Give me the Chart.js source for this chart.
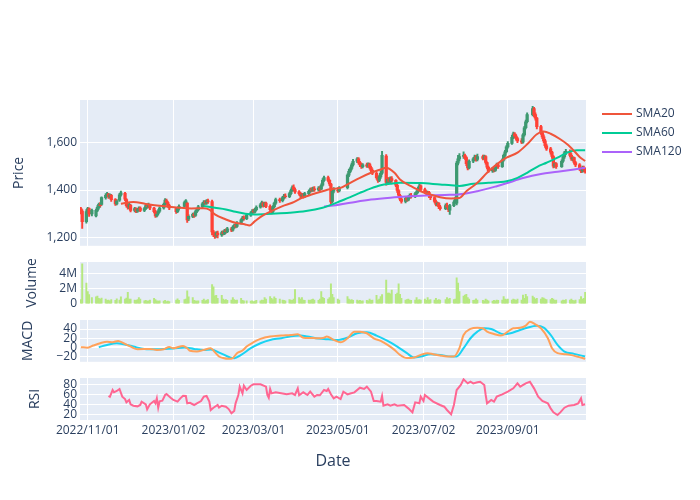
<!DOCTYPE html>
<html>
<head>
<meta charset="utf-8">
<script src="https://cdn.jsdelivr.net/npm/chart.js@4.4.1/dist/chart.umd.min.js"></script>
<style>
  body { margin: 0; background: #fff; }
  #wrap { position: relative; width: 700px; height: 500px; }
  #wrap canvas { position: absolute; left: 0; }
</style>
</head>
<body>
<div id="wrap">
  <canvas id="price" width="700" height="256" style="top:0"></canvas>
  <canvas id="volume" width="700" height="64" style="top:250px"></canvas>
  <canvas id="macd" width="700" height="64" style="top:308px"></canvas>
  <canvas id="rsi" width="700" height="134" style="top:366px"></canvas>
</div>
<script>
// trading calendar
const firstDate = '2022-10-27';
const lastDate = '2023-10-27';
const holidays = ['2022-11-03', '2022-11-23', '2023-01-02', '2023-01-03', '2023-01-09', '2023-02-23',
  '2023-03-21', '2023-05-03', '2023-05-04', '2023-05-05', '2023-07-17', '2023-08-11', '2023-09-18', '2023-10-09'];

const tickDates = ['2022-11-01', '2023-01-02', '2023-03-01', '2023-05-01', '2023-07-02', '2023-09-01'];

// daily prices, one line per week
const openP = [
  1322, 1312,
  1268, 1310, 1322, 1300,
  1292, 1315, 1326, 1338, 1340,
  1368, 1378, 1382, 1372, 1378,
  1360, 1342, 1358, 1380,
  1386, 1360, 1335, 1328, 1336,
  1315, 1322, 1312, 1318, 1325,
  1315, 1322, 1334, 1330, 1336,
  1325, 1310, 1292, 1302, 1312,
  1325, 1340, 1356, 1348, 1335,
  1322, 1310, 1322,
  1332, 1348, 1345, 1278,
  1290, 1298, 1294, 1310, 1318,
  1330, 1342, 1350, 1346, 1355,
  1352, 1225, 1215, 1210, 1220,
  1212, 1222, 1218, 1230, 1226,
  1238, 1232, 1245, 1252, 1248,
  1262, 1275, 1284, 1280,
  1295, 1305, 1312, 1308, 1318,
  1328, 1338, 1346, 1335, 1345,
  1332, 1318, 1310, 1330, 1345,
  1360, 1355, 1368, 1375,
  1372, 1385, 1398, 1412, 1402,
  1392, 1385, 1375, 1380, 1372,
  1385, 1395, 1402, 1398, 1405,
  1400, 1408, 1404, 1420, 1440,
  1452, 1440, 1425, 1352, 1395,
  1400, 1396,
  1410, 1462, 1478, 1490, 1505,
  1520, 1530, 1515, 1505, 1498,
  1505, 1500, 1508, 1495, 1482,
  1470, 1452, 1440, 1455, 1470,
  1542, 1430, 1445, 1436, 1448,
  1440, 1420, 1398, 1378, 1362,
  1352, 1365, 1358, 1370, 1378,
  1372, 1385, 1392, 1405, 1418,
  1402, 1392, 1385, 1390, 1375,
  1368, 1352, 1340, 1345, 1330,
  1322, 1335, 1328, 1316,
  1335, 1350, 1345, 1512, 1530,
  1540, 1545, 1535, 1510, 1492,
  1520, 1530, 1538, 1528,
  1540, 1532, 1540, 1515, 1495,
  1480, 1488, 1482, 1496, 1505,
  1498, 1525, 1545, 1560, 1580,
  1595, 1620, 1635, 1625, 1615,
  1605, 1600, 1630, 1660, 1685,
  1715, 1740, 1715, 1700,
  1665, 1640, 1622, 1605, 1585,
  1572, 1558, 1540, 1500, 1510,
  1498, 1520, 1538, 1555,
  1562, 1545, 1530, 1535, 1515,
  1505, 1490, 1480, 1495, 1485
];
const highP = [
  1328, 1318,
  1318, 1328, 1326, 1320,
  1320, 1335, 1345, 1348, 1372,
  1385, 1390, 1386, 1384, 1382,
  1364, 1360, 1386, 1396,
  1390, 1364, 1342, 1344, 1340,
  1328, 1326, 1324, 1330, 1330,
  1328, 1340, 1342, 1345, 1340,
  1328, 1315, 1306, 1318, 1330,
  1345, 1364, 1362, 1352, 1340,
  1328, 1328, 1338,
  1354, 1360, 1348, 1296,
  1304, 1305, 1316, 1324, 1336,
  1348, 1356, 1356, 1360, 1362,
  1358, 1232, 1222, 1226, 1228,
  1228, 1230, 1236, 1238, 1244,
  1244, 1250, 1258, 1260, 1268,
  1280, 1290, 1292, 1300,
  1310, 1318, 1320, 1324, 1334,
  1344, 1354, 1350, 1350, 1350,
  1338, 1324, 1335, 1350, 1366,
  1366, 1374, 1382, 1384,
  1390, 1404, 1418, 1422, 1408,
  1398, 1390, 1386, 1386, 1390,
  1400, 1408, 1410, 1412, 1414,
  1414, 1414, 1426, 1448, 1458,
  1458, 1444, 1428, 1400, 1410,
  1410, 1414,
  1468, 1486, 1496, 1512, 1528,
  1536, 1535, 1520, 1512, 1510,
  1512, 1514, 1512, 1500, 1488,
  1476, 1458, 1462, 1478, 1562,
  1548, 1452, 1452, 1455, 1456,
  1444, 1424, 1402, 1382, 1368,
  1370, 1372, 1376, 1384, 1386,
  1390, 1398, 1412, 1430, 1422,
  1408, 1398, 1396, 1394, 1380,
  1372, 1358, 1350, 1348, 1336,
  1342, 1345, 1334, 1340,
  1356, 1370, 1520, 1545, 1552,
  1560, 1550, 1540, 1516, 1526,
  1536, 1546, 1545, 1550,
  1546, 1546, 1544, 1518, 1500,
  1494, 1495, 1502, 1512, 1510,
  1530, 1550, 1566, 1586, 1602,
  1628, 1642, 1640, 1632, 1620,
  1615, 1636, 1666, 1692, 1722,
  1750, 1745, 1722, 1704,
  1670, 1646, 1630, 1612, 1592,
  1578, 1562, 1544, 1516, 1515,
  1526, 1544, 1562, 1570,
  1568, 1552, 1540, 1538, 1520,
  1510, 1495, 1500, 1500, 1492
];
const lowP = [
  1300, 1240,
  1262, 1302, 1290, 1292,
  1288, 1310, 1320, 1328, 1336,
  1362, 1372, 1365, 1366, 1352,
  1336, 1338, 1352, 1374,
  1356, 1328, 1320, 1322, 1308,
  1308, 1305, 1306, 1312, 1310,
  1310, 1318, 1324, 1325, 1318,
  1304, 1286, 1288, 1296, 1306,
  1320, 1336, 1340, 1328, 1318,
  1302, 1305, 1316,
  1328, 1342, 1265, 1272,
  1284, 1286, 1290, 1305, 1314,
  1326, 1338, 1340, 1340, 1344,
  1212, 1205, 1198, 1202, 1200,
  1206, 1212, 1214, 1220, 1222,
  1226, 1228, 1240, 1242, 1244,
  1258, 1270, 1274, 1276,
  1290, 1300, 1302, 1304, 1314,
  1324, 1332, 1328, 1330, 1326,
  1310, 1300, 1305, 1326, 1340,
  1348, 1350, 1362, 1366,
  1368, 1380, 1394, 1396, 1386,
  1378, 1368, 1368, 1366, 1368,
  1380, 1390, 1392, 1394, 1394,
  1396, 1396, 1400, 1416, 1436,
  1434, 1418, 1340, 1346, 1388,
  1390, 1392,
  1405, 1456, 1472, 1484, 1500,
  1514, 1508, 1498, 1490, 1492,
  1494, 1494, 1488, 1476, 1464,
  1445, 1432, 1435, 1448, 1465,
  1420, 1424, 1428, 1430, 1432,
  1414, 1390, 1370, 1355, 1345,
  1346, 1352, 1354, 1365, 1366,
  1368, 1380, 1388, 1400, 1396,
  1386, 1378, 1380, 1368, 1360,
  1346, 1334, 1334, 1322, 1316,
  1318, 1322, 1310, 1298,
  1330, 1344, 1338, 1505, 1522,
  1532, 1528, 1502, 1484, 1488,
  1514, 1524, 1520, 1522,
  1526, 1528, 1508, 1488, 1474,
  1474, 1476, 1478, 1490, 1490,
  1494, 1520, 1540, 1555, 1575,
  1590, 1614, 1618, 1608, 1598,
  1594, 1596, 1625, 1655, 1680,
  1710, 1705, 1692, 1655,
  1632, 1614, 1598, 1578, 1565,
  1550, 1532, 1492, 1494, 1490,
  1494, 1515, 1532, 1548,
  1538, 1524, 1522, 1508, 1498,
  1482, 1472, 1474, 1476, 1470
];
const closeP = [
  1308, 1268,
  1310, 1322, 1300, 1315,
  1315, 1328, 1340, 1335, 1368,
  1378, 1382, 1372, 1380, 1360,
  1342, 1355, 1380, 1388,
  1362, 1335, 1328, 1338, 1315,
  1322, 1312, 1318, 1325, 1315,
  1322, 1335, 1330, 1338, 1325,
  1310, 1292, 1300, 1312, 1325,
  1340, 1358, 1348, 1335, 1325,
  1310, 1322, 1332,
  1348, 1355, 1275, 1290,
  1298, 1292, 1310, 1318, 1330,
  1342, 1350, 1346, 1355, 1350,
  1225, 1215, 1208, 1220, 1212,
  1222, 1218, 1230, 1226, 1238,
  1232, 1245, 1252, 1248, 1262,
  1275, 1284, 1280, 1295,
  1305, 1312, 1308, 1318, 1328,
  1338, 1348, 1335, 1345, 1332,
  1318, 1308, 1330, 1345, 1360,
  1355, 1368, 1375, 1372,
  1385, 1398, 1410, 1402, 1392,
  1385, 1375, 1380, 1372, 1385,
  1395, 1402, 1398, 1405, 1400,
  1408, 1402, 1420, 1440, 1452,
  1440, 1425, 1350, 1395, 1402,
  1396, 1408,
  1462, 1478, 1490, 1505, 1520,
  1530, 1515, 1505, 1498, 1505,
  1500, 1508, 1495, 1482, 1470,
  1452, 1440, 1455, 1470, 1545,
  1432, 1445, 1436, 1448, 1440,
  1420, 1398, 1378, 1362, 1352,
  1365, 1358, 1370, 1378, 1372,
  1385, 1392, 1405, 1418, 1402,
  1392, 1385, 1390, 1375, 1368,
  1352, 1340, 1345, 1330, 1322,
  1335, 1328, 1318, 1335,
  1350, 1365, 1512, 1530, 1540,
  1545, 1535, 1510, 1492, 1520,
  1530, 1538, 1528, 1540,
  1532, 1540, 1515, 1495, 1480,
  1488, 1482, 1496, 1505, 1498,
  1525, 1545, 1560, 1580, 1595,
  1620, 1635, 1625, 1615, 1605,
  1600, 1630, 1660, 1685, 1715,
  1740, 1715, 1700, 1665,
  1640, 1622, 1605, 1585, 1572,
  1558, 1540, 1500, 1510, 1498,
  1520, 1538, 1555, 1562,
  1545, 1530, 1535, 1515, 1505,
  1490, 1480, 1495, 1485, 1478
];
const volume = [
  550000, 5200000,
  2700000, 1600000, 1200000, 800000,
  900000, 1000000, 700000, 600000, 750000,
  600000, 450000, 500000, 400000, 550000,
  450000, 650000, 500000, 900000,
  600000, 750000, 1500000, 600000, 600000,
  500000, 450000, 550000, 800000, 600000,
  400000, 450000, 350000, 400000, 500000,
  700000, 550000, 400000, 350000, 400000,
  350000, 450000, 300000, 350000, 300000,
  500000, 650000, 450000,
  550000, 600000, 1700000, 900000,
  800000, 450000, 400000, 350000, 400000,
  450000, 600000, 400000, 500000, 550000,
  2500000, 2200000, 1050000, 1100000, 700000,
  1100000, 600000, 500000, 550000, 450000,
  500000, 800000, 550000, 450000, 500000,
  700000, 450000, 400000, 400000,
  350000, 400000, 300000, 350000, 450000,
  400000, 500000, 450000, 800000, 600000,
  950000, 700000, 550000, 900000, 700000,
  600000, 500000, 450000, 400000,
  550000, 500000, 450000, 600000, 1850000,
  800000, 600000, 800000, 500000, 450000,
  500000, 450000, 550000, 600000, 500000,
  450000, 600000, 1600000, 850000, 700000,
  600000, 800000, 2600000, 1250000, 800000,
  600000, 500000,
  950000, 600000, 500000, 550000, 450000,
  500000, 400000, 450000, 350000, 400000,
  450000, 400000, 600000, 450000, 500000,
  1100000, 500000, 600000, 950000, 1200000,
  3100000, 1400000, 1400000, 1300000, 1800000,
  1250000, 1400000, 2600000, 1250000, 700000,
  500000, 550000, 600000, 500000, 450000,
  500000, 800000, 500000, 550000, 500000,
  600000, 450000, 800000, 500000, 550000,
  500000, 700000, 450000, 550000, 500000,
  550000, 800000, 600000, 700000,
  550000, 600000, 3400000, 2700000, 1600000,
  1000000, 1150000, 1250000, 800000, 600000,
  450000, 500000, 650000, 500000,
  450000, 400000, 600000, 500000, 400000,
  350000, 450000, 400000, 500000, 450000,
  500000, 950000, 600000, 550000, 600000,
  500000, 600000, 550000, 450000, 600000,
  500000, 1150000, 700000, 1250000, 950000,
  1000000, 800000, 600000, 700000,
  600000, 800000, 750000, 600000, 550000,
  550000, 700000, 600000, 450000, 500000,
  400000, 500000, 450000, 550000,
  500000, 600000, 450000, 400000, 500000,
  550000, 950000, 600000, 700000, 1500000
];

// indicator readings, x = days after 2022-11-01
const sma20Days = [24, 33, 42, 54, 66, 75, 84, 88, 92, 100, 107, 114, 117, 121, 126, 133, 141, 148, 155, 162,
  170, 175, 183, 190, 197, 205, 212, 216, 222, 226, 234, 241, 248, 255, 263, 269, 274, 282, 289, 296,
  303, 311, 318, 325, 330, 335, 342, 347, 352, 356, 360];
const sma20 = [1343, 1350, 1342, 1333, 1326, 1323, 1324, 1318, 1298, 1277, 1263, 1256, 1252, 1270, 1291, 1312, 1333, 1347, 1367, 1381,
  1395, 1403, 1409, 1430, 1451, 1472, 1486, 1493, 1472, 1444, 1416, 1395, 1381, 1370, 1365, 1367, 1395, 1430, 1472, 1507,
  1535, 1556, 1591, 1633, 1644, 1635, 1612, 1591, 1563, 1538, 1521];

const sma60Days = [84, 92, 100, 107, 114, 121, 133, 146, 158, 170, 176, 183, 190, 197, 205, 212, 219, 226, 241, 255,
  263, 269, 279, 290, 303, 311, 318, 325, 332, 340, 347, 354, 360];
const sma60 = [1333, 1326, 1319, 1309, 1301, 1298, 1301, 1305, 1312, 1326, 1338, 1354, 1370, 1388, 1407, 1420, 1426, 1430, 1429, 1423,
  1420, 1417, 1426, 1430, 1437, 1451, 1472, 1496, 1514, 1535, 1556, 1566, 1566];

const sma120Days = [171, 176, 190, 205, 219, 234, 248, 262, 268, 282, 296, 303, 315, 328, 340, 352, 360];
const sma120 = [1331, 1334, 1347, 1360, 1368, 1374, 1378, 1380, 1381, 1395, 1416, 1428, 1450, 1467, 1476, 1486, 1493];

const macdDays = [-5, 0, 4, 9, 14, 18, 22, 26, 31, 36, 45, 50, 55, 59, 62, 69, 72, 74, 79, 84,
  89, 92, 95, 98, 102, 105, 108, 112, 115, 120, 125, 132, 140, 147, 152, 156, 161, 166, 171, 173,
  178, 183, 188, 193, 197, 202, 207, 212, 217, 222, 226, 231, 236, 241, 246, 250, 255, 260, 265, 269,
  272, 277, 282, 286, 289, 294, 299, 304, 308, 313, 317, 320, 324, 328, 333, 336, 340, 345, 349, 354, 360];
const macd = [0, -1, 3.6, 8.7, 12, 11, 13.8, 8.7, 1.4, -4.5, -3.8, -6, -4.5, 0.6, -2.3, 2.8, -2.3, -8, -9.6, -6,
  -2.3, -11, -20.6, -24, -25.8, -24, -13.3, -7.4, 1.4, 10.9, 18.2, 23.4, 25.6, 27, 28.5, 21, 20.5, 19.7, 21, 23.4,
  16, 10.9, 19.7, 34.3, 34.3, 30.7, 19.7, 13.8, 5, -6, -17, -24, -22.8, -17, -13.3, -15.5, -18.4, -20.6, -20.6, -2.3,
  27, 40.2, 43, 41.7, 34.3, 29.2, 25.6, 34.3, 41.7, 43, 47.5, 56.3, 50.5, 41.7, 19.7, -2.3, -13.3, -15.5, -17, -20.6, -25.8];

const signalDays = [8, 14, 21, 26, 33, 41, 50, 62, 70, 77, 84, 89, 96, 103, 106, 111, 118, 125, 132, 140,
  147, 154, 159, 165, 171, 181, 188, 195, 202, 209, 217, 224, 231, 236, 241, 248, 255, 263, 267, 272,
  277, 282, 287, 292, 296, 301, 306, 311, 318, 325, 330, 335, 340, 345, 352, 360];
const signal = [0, 5, 8.7, 6.5, 1.4, -3.8, -4.5, -3, -0.8, -3.8, -6, -5.2, -13, -22.8, -24.3, -17, -2.3, 8.7, 16, 19.7,
  24, 25.5, 23.4, 19.7, 18.2, 16, 21, 30.7, 32.9, 25.6, 13.8, 1.4, -13.3, -22.8, -20.6, -15.5, -17, -20.6, -20.6, -2.3,
  19.7, 34.3, 41.7, 40.2, 34.3, 28.5, 30.7, 35.8, 43, 47.5, 43, 27, 5, -9.6, -14.8, -20.6];

const rsiDays = [15, 16, 18, 19, 21, 23, 25, 27, 28, 30, 31, 33, 36, 38, 39, 42, 43, 45, 48, 49,
  50, 51, 52, 54, 56, 57, 60, 62, 65, 67, 69, 71, 72, 74, 77, 79, 82, 84, 86, 88,
  89, 91, 94, 95, 97, 100, 102, 104, 106, 107, 109, 110, 112, 113, 115, 118, 120, 125, 129, 130,
  131, 132, 133, 136, 140, 144, 148, 150, 152, 153, 156, 159, 161, 164, 166, 168, 171, 173, 174, 176,
  178, 180, 183, 185, 188, 190, 193, 197, 200, 202, 205, 207, 209, 212, 213, 214, 217, 219, 222, 224,
  229, 232, 235, 237, 240, 241, 243, 244, 247, 250, 255, 258, 260, 263, 265, 267, 270, 272, 275, 277,
  279, 282, 284, 287, 288, 289, 292, 294, 296, 300, 304, 308, 311, 313, 317, 320, 323, 326, 329, 333,
  335, 337, 340, 342, 345, 348, 352, 355, 357, 358, 360];
const rsi = [56.6, 55, 68.6, 64, 66.6, 70.6, 55.3, 50.6, 43.9, 48.6, 40, 37.2, 35.9, 38.6, 45.3, 40, 29.9, 40, 46.6, 42,
  51.9, 33.2, 46, 47.3, 58.6, 60.6, 53.2, 48.6, 45.3, 51.9, 57.2, 56.6, 41.9, 43, 38.6, 42, 46.6, 55.3, 56.6, 45.3,
  28.6, 33.2, 38.6, 33.5, 37.2, 35.2, 30.5, 21.9, 26.5, 41.9, 58.6, 75.3, 61.9, 77.2, 68.6, 77.2, 80, 80, 75.3, 58.6,
  53.2, 70.6, 61.9, 64, 61.9, 59.9, 61.9, 58.6, 71.9, 58, 64, 58.6, 65.3, 55.3, 58.6, 58, 68.6, 66.6, 70.6, 60,
  51.9, 55.3, 50.6, 65.3, 59.9, 61.5, 63.9, 73.2, 70.6, 75.3, 65.3, 46.6, 46.6, 45.3, 56.6, 37.2, 39.9, 37.2, 39.9, 37.2,
  38.6, 31.9, 23.9, 43.9, 42, 55.3, 46.6, 58.6, 51.9, 45.3, 38.6, 35.2, 28.6, 19.9, 38.6, 68.6, 78.6, 89.9, 81.9, 85.2,
  81.9, 83.9, 85, 78.6, 58.6, 41.9, 48.6, 45.3, 55.3, 59.9, 65.3, 71.9, 81.9, 75.3, 81.9, 85.2, 71.9, 55.3, 46.6, 41.9,
  31.9, 23.9, 18.5, 23.9, 33.2, 37.2, 38.6, 41.9, 51.9, 38.6, 40];

// ---------------------------------------------------------------
const baseTime = Date.parse('2022-11-01');
const toDay = iso => (Date.parse(iso) - baseTime) / 864e5;

const tradingDates = [];
for (let t = Date.parse(firstDate); t <= Date.parse(lastDate); t += 864e5) {
  const d = new Date(t);
  const iso = d.toISOString().slice(0, 10);
  if (d.getUTCDay() % 6 !== 0 && !holidays.includes(iso)) tradingDates.push(iso);
}
const days = tradingDates.map(toDay);
const tickDays = tickDates.map(toDay);
const tickLabels = tickDates.map(s => s.replace(/-/g, '/'));

const FONT = '"Open Sans", verdana, arial, sans-serif';
const INK = '#2a3f5f';
const X_MIN = -5.6, X_MAX = 360.6;

const plotBg = {
  id: 'plotBg',
  beforeDraw(chart) {
    const { ctx, chartArea: a } = chart;
    ctx.save();
    ctx.fillStyle = '#E5ECF6';
    ctx.fillRect(a.left, a.top, a.right - a.left, a.bottom - a.top);
    ctx.restore();
  }
};

const xAxis = showDates => ({
  type: 'linear', min: X_MIN, max: X_MAX, offset: false,
  afterBuildTicks: s => { s.ticks = tickDays.map(v => ({ value: v })); },
  afterFit: s => { s.height = showDates ? 80 : 0; },
  grid: { color: '#fff', lineWidth: 1, drawTicks: false, offset: false },
  border: { display: false },
  ticks: {
    display: showDates, color: INK, font: { family: FONT, size: 12 }, padding: 3,
    maxRotation: 0, autoSkip: false,
    callback: (v, i) => tickLabels[i]
  },
  title: {
    display: showDates, text: 'Date', color: INK,
    font: { family: FONT, size: 16 }, padding: { bottom: 29 }
  }
});

const yAxis = (min, max, ticks, title, titleGap, fmt) => ({
  min, max,
  afterBuildTicks: s => { s.ticks = ticks.map(v => ({ value: v })); },
  afterFit: s => { s.width = 80; },
  grid: { color: '#fff', drawTicks: false, lineWidth: c => (title === 'MACD' && c.tick && c.tick.value === 0 ? 2 : 1) },
  border: { display: false },
  ticks: { color: INK, font: { family: FONT, size: 12 }, padding: 3, autoSkip: false, callback: fmt },
  title: { display: true, text: title, color: INK, font: { family: FONT, size: 14 }, padding: { top: titleGap } }
});

const line = (label, xs, ys, color, smooth) => ({
  type: 'line', label, order: 0,
  data: xs.map((x, i) => ({ x, y: ys[i] })),
  borderColor: color, borderWidth: 2, pointRadius: 0,
  cubicInterpolationMode: smooth ? 'monotone' : 'default', tension: 0
});

const baseOptions = (pad, scales) => ({
  responsive: false, animation: false, events: [],
  layout: { padding: { left: 0, right: 114, top: pad[0], bottom: pad[1] } },
  plugins: { legend: { display: false }, tooltip: { enabled: false } },
  scales
});

// price panel ----------------------------------------------------
const candleColor = closeP.map((c, i) => (c >= openP[i] ? '#3D9970' : '#FF4136'));
const smaSeries = [
  { label: 'SMA20', days: sma20Days, values: sma20, color: '#EF553B' },
  { label: 'SMA60', days: sma60Days, values: sma60, color: '#00CC96' },
  { label: 'SMA120', days: sma120Days, values: sma120, color: '#AB63FA' }
];

const smaLegend = {
  id: 'smaLegend',
  afterDraw(chart) {
    const ctx = chart.ctx;
    ctx.save();
    ctx.font = '12px ' + FONT;
    ctx.textBaseline = 'middle';
    smaSeries.forEach((s, i) => {
      const y = 114 + i * 19;
      ctx.strokeStyle = s.color;
      ctx.lineWidth = 2;
      ctx.beginPath();
      ctx.moveTo(602, y);
      ctx.lineTo(632, y);
      ctx.stroke();
      ctx.fillStyle = INK;
      ctx.fillText(s.label, 636, y);
    });
    ctx.restore();
  }
};

new Chart(document.getElementById('price'), {
  type: 'bar',
  data: {
    datasets: [
      ...smaSeries.map(s => line(s.label, s.days, s.values, s.color, true)),
      {
        label: 'body', order: 1, grouped: false, barThickness: 2.6,
        data: days.map((d, i) => ({ x: d, y: [openP[i], closeP[i]] })),
        backgroundColor: candleColor
      },
      {
        label: 'wick', order: 2, grouped: false, barThickness: 1.3,
        data: days.map((d, i) => ({ x: d, y: [lowP[i], highP[i]] })),
        backgroundColor: candleColor
      }
    ]
  },
  options: baseOptions([100, 10], {
    x: xAxis(false),
    y: yAxis(1167, 1776, [1200, 1400, 1600], 'Price', 11, v => v.toLocaleString('en-US'))
  }),
  plugins: [plotBg, smaLegend]
});

// volume panel ---------------------------------------------------
new Chart(document.getElementById('volume'), {
  type: 'bar',
  data: {
    datasets: [{
      label: 'Volume', grouped: false, barThickness: 1.3,
      data: days.map((d, i) => ({ x: d, y: volume[i] })),
      backgroundColor: '#B6E880'
    }]
  },
  options: baseOptions([12, 10], {
    x: xAxis(false),
    y: yAxis(0, 5450000, [0, 2000000, 4000000], 'Volume', 24, v => (v === 0 ? '0' : v / 1e6 + 'M'))
  }),
  plugins: [plotBg]
});

// MACD panel -----------------------------------------------------
new Chart(document.getElementById('macd'), {
  type: 'line',
  data: {
    datasets: [
      line('MACD', macdDays, macd, '#FFA15A', true),
      line('Signal', signalDays, signal, '#19D3F3', true)
    ]
  },
  options: baseOptions([12, 10], {
    x: xAxis(false),
    y: yAxis(-32.3, 60, [-20, 0, 20, 40], 'MACD', 20, v => (v < 0 ? '\u2212' + Math.abs(v) : String(v)))
  }),
  plugins: [plotBg]
});

// RSI panel ------------------------------------------------------
new Chart(document.getElementById('rsi'), {
  type: 'line',
  data: {
    datasets: [line('RSI', rsiDays, rsi, '#FF6692', false)]
  },
  options: baseOptions([12, 0], {
    x: xAxis(true),
    y: yAxis(8.6, 92.6, [20, 40, 60, 80], 'RSI', 27, v => String(v))
  }),
  plugins: [plotBg]
});
</script>
</body>
</html>
